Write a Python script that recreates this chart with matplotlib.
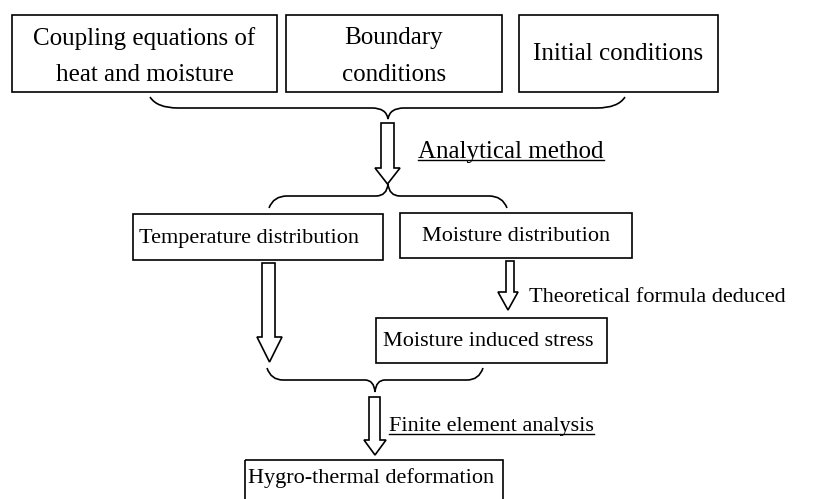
import matplotlib

matplotlib.use("Agg")
import matplotlib.pyplot as plt
from matplotlib.patches import PathPatch, Polygon, Rectangle
from matplotlib.path import Path

plt.rcParams["font.family"] = ["Liberation Serif", "DejaVu Serif"]

# Text content of the flowchart
top_labels = ["Coupling equations of\nheat and moisture", "Boundary\nconditions", "Initial conditions"]
mid_labels = ["Temperature distribution", "Moisture distribution"]
stress_label = "Moisture induced stress"
final_label = "Hygro-thermal deformation"
step_labels = ["Analytical method", "Theoretical formula deduced", "Finite element analysis"]
step_underlined = [True, False, True]

# Layout in pixel coordinates (x right, y down)
W, H = 818, 499
top_boxes = [(12, 15, 277, 92), (286, 15, 502, 92), (519, 15, 718, 92)]
mid_boxes = [(133, 214, 383, 260), (400, 213, 632, 258)]
stress_box = (376, 318, 607, 363)
final_box = (245, 460, 503, 520)
# shaft left, shaft right, top, head start, head left, head right, tip
arrows = [
    (381, 394, 123, 168, 375, 400, 184),
    (262, 275, 263, 337, 257, 282, 362),
    (506, 514, 261, 292, 498, 518, 310),
    (369, 380, 397, 440, 364, 386, 455),
]
step_pos = [(418, 152), (529, 297), (389, 427)]

fig = plt.figure(figsize=(W / 100, H / 100), dpi=100)
ax = fig.add_axes([0, 0, 1, 1])
ax.set_xlim(0, W)
ax.set_ylim(H, 0)
ax.axis("off")

LW = 1.2


def box(b):
    x0, y0, x1, y1 = b
    ax.add_patch(Rectangle((x0, y0), x1 - x0, y1 - y0, fill=False, lw=LW, ec="black"))


def brace(x0, x1, xm, y_end, y_flat, y_tip, r, rt):
    verts = [
        (x0, y_end), (x0 + 0.25 * r, y_flat), (x0 + r, y_flat),
        (xm - rt, y_flat),
        (xm - 0.1 * rt, y_flat), (xm, y_tip),
        (xm + 0.1 * rt, y_flat), (xm + rt, y_flat),
        (x1 - r, y_flat),
        (x1 - 0.25 * r, y_flat), (x1, y_end),
    ]
    codes = [Path.MOVETO, Path.CURVE3, Path.CURVE3, Path.LINETO,
             Path.CURVE3, Path.CURVE3, Path.CURVE3, Path.CURVE3,
             Path.LINETO, Path.CURVE3, Path.CURVE3]
    ax.add_patch(PathPatch(Path(verts, codes), fill=False, lw=LW, ec="black"))


def block_arrow(a):
    xl, xr, y0, yh, hl, hr, y1 = a
    xc = (hl + hr) / 2
    pts = [(xl, y0), (xr, y0), (xr, yh), (hr, yh), (xc, y1), (hl, yh), (xl, yh)]
    ax.add_patch(Polygon(pts, closed=True, fc="white", ec="black", lw=LW))


# top row boxes
for b, t in zip(top_boxes, top_labels):
    box(b)
    dy = 3 if "\n" in t else 0
    ax.text((b[0] + b[2]) / 2, (b[1] + b[3]) / 2 + dy, t, ha="center", va="center",
            fontsize=18, linespacing=1.85)

# middle boxes
box(mid_boxes[0])
ax.text(mid_boxes[0][0] + 6, (mid_boxes[0][1] + mid_boxes[0][3]) / 2 + 1, mid_labels[0],
        ha="left", va="center", fontsize=16)
box(mid_boxes[1])
ax.text((mid_boxes[1][0] + mid_boxes[1][2]) / 2, (mid_boxes[1][1] + mid_boxes[1][3]) / 2 + 1,
        mid_labels[1], ha="center", va="center", fontsize=16)

box(stress_box)
ax.text(stress_box[0] + 7, (stress_box[1] + stress_box[3]) / 2 + 1,
        stress_label, ha="left", va="center", fontsize=16)

box(final_box)
ax.text(final_box[0] + 3, 478, final_label, ha="left", va="center", fontsize=16)

# braces
brace(150, 625, 388, 97, 108, 119, 28, 16)
brace(269, 507, 388, 208, 196, 184, 18, 12)
brace(267, 483, 375, 368, 380, 392, 16, 10)

for a in arrows:
    block_arrow(a)

# step labels
step_texts = []
for (x, y), t, fs in zip(step_pos, step_labels, [18, 16, 16]):
    step_texts.append(ax.text(x, y, t, ha="left", va="center", fontsize=fs))

fig.canvas.draw()
renderer = fig.canvas.get_renderer()
inv = ax.transData.inverted()
for txt, ul in zip(step_texts, step_underlined):
    if not ul:
        continue
    bb = txt.get_window_extent(renderer)
    (xa, ya), (xb, yb) = inv.transform([(bb.x0, bb.y0), (bb.x1, bb.y1)])
    ax.plot([xa, xb], [ya - 3, ya - 3], color="black", lw=1.0)

fig.savefig("out.png", dpi=100)
